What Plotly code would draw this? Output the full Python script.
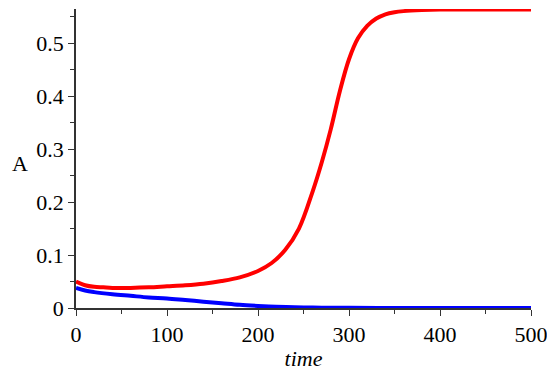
import plotly.graph_objects as go

# red curve
red_time = [0, 10, 20, 30, 40, 60, 80, 100, 120, 140, 160, 180, 200, 215, 230, 245,
            260, 270, 280, 290, 300, 310, 320, 330, 340, 350, 360, 380, 400, 450, 500]
red_A = [0.050, 0.043, 0.040, 0.039, 0.038, 0.038, 0.039, 0.041, 0.043, 0.046, 0.051,
         0.058, 0.070, 0.085, 0.110, 0.150, 0.220, 0.275, 0.338, 0.410, 0.470, 0.510,
         0.533, 0.547, 0.555, 0.559, 0.561, 0.563, 0.564, 0.564, 0.564]

# blue curve
blue_time = [0, 10, 20, 40, 60, 80, 100, 120, 140, 160, 180, 200, 220, 240, 260, 280,
             300, 350, 400, 500]
blue_A = [0.038, 0.033, 0.030, 0.026, 0.023, 0.020, 0.018, 0.015, 0.012, 0.009, 0.006,
          0.004, 0.0025, 0.0015, 0.0009, 0.0005, 0.0003, 0.0001, 0.0, 0.0]

font = "Liberation Serif"

fig = go.Figure()
fig.add_trace(go.Scatter(x=blue_time, y=blue_A, mode='lines',
                         line=dict(color='rgb(0,0,255)', width=4, shape='spline')))
fig.add_trace(go.Scatter(x=red_time, y=red_A, mode='lines',
                         line=dict(color='rgb(255,0,0)', width=4, shape='spline')))

axis_common = dict(showgrid=False, zeroline=False, showline=True, linecolor='#333',
                   linewidth=1.5, ticks='outside', ticklen=6, tickcolor='#333',
                   automargin=False,
                   tickfont=dict(family=font, size=22, color='black'))

fig.update_xaxes(range=[0, 500], dtick=100, tick0=0,
                 minor=dict(dtick=50, ticks='outside', ticklen=4, tickcolor='#333'),
                 title=dict(text='<i>time</i>', font=dict(family=font, size=22, color='black'),
                            standoff=4),
                 **axis_common)
fig.update_yaxes(range=[0, 0.565], dtick=0.1, tick0=0,
                 minor=dict(dtick=0.05, ticks='outside', ticklen=4, tickcolor='#333'),
                 **axis_common)

# page has an 8px body margin, so the figure is 8px smaller and margins shifted
fig.add_annotation(text='A', xref='paper', yref='paper', showarrow=False,
                   x=(12 - 68) / 455, y=(300 - 155) / 299,
                   xanchor='center', yanchor='middle',
                   font=dict(family=font, size=22, color='black'))

fig.update_layout(width=547, height=371, showlegend=False,
                  plot_bgcolor='white', paper_bgcolor='white',
                  margin=dict(l=68, r=24, t=1, b=71))

fig.write_html("out.html")
